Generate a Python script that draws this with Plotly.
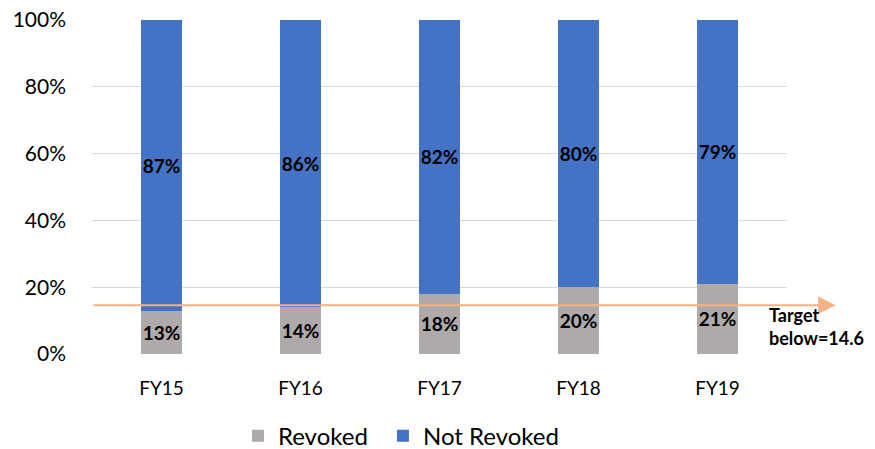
import plotly.graph_objects as go

categories = ["FY15", "FY16", "FY17", "FY18", "FY19"]
revoked = [13, 14, 18, 20, 21]
not_revoked = [87, 86, 82, 80, 79]
target = 14.6
target_label = "Target<br>below=14.6"

FONT = "Lato"

fig = go.Figure()
fig.add_trace(go.Bar(
    x=categories, y=revoked, name="Revoked", legend="legend",
    marker=dict(color="#AEAAAA", line=dict(width=0)),
    text=[f"{v}%" for v in revoked], textposition="inside",
    insidetextanchor="middle", textangle=0, constraintext="none",
    textfont=dict(family=FONT, size=19, color="black", weight="bold"),
))
fig.add_trace(go.Bar(
    x=categories, y=not_revoked, name="Not Revoked", legend="legend2",
    marker=dict(color="#4472C4", line=dict(width=0)),
    text=[f"{v}%" for v in not_revoked], textposition="inside",
    insidetextanchor="middle", textangle=0, constraintext="none",
    textfont=dict(family=FONT, size=19, color="black", weight="bold"),
))

plot_w = 875 - 84 - 96
fig.add_annotation(
    x=1.07, y=target, xref="paper", yref="y",
    ax=-1.07 * plot_w, ay=0, axref="pixel", ayref="pixel",
    showarrow=True, arrowhead=2, arrowsize=1.75, arrowwidth=2,
    arrowcolor="#F4B183", text="",
)
fig.add_annotation(
    x=0.9715, y=target, xref="paper", yref="y",
    text=f"<b>{target_label}</b>", showarrow=False,
    xanchor="left", yanchor="top", align="left", yshift=3,
    font=dict(family=FONT, size=18, color="black"),
)

legend_common = dict(orientation="h", yanchor="middle", y=-0.246, xanchor="left",
                     font=dict(family=FONT, size=24, color="black"), itemwidth=30,
                     bgcolor="rgba(0,0,0,0)")

fig.update_layout(
    barmode="stack", bargap=0.70,
    width=875, height=449,
    margin=dict(l=84, r=96, t=12, b=103, autoexpand=False),
    paper_bgcolor="white", plot_bgcolor="white",
    font=dict(family=FONT, color="black"),
    showlegend=True,
    legend=dict(x=0.210, **legend_common),
    legend2=dict(x=0.4186, **legend_common),
    xaxis=dict(showgrid=False, showline=False, ticks="", automargin=False,
               tickfont=dict(family=FONT, size=19, color="black"), ticklabelstandoff=21),
    yaxis=dict(range=[0, 100], dtick=20, ticksuffix="%", showgrid=True, automargin=False,
               gridcolor="#D9D9D9", gridwidth=1, zeroline=False, showline=False,
               ticklabeloverflow="allow",
               tickfont=dict(family=FONT, size=21, color="black"), ticklabelstandoff=25),
)

fig.write_html("out.html")
